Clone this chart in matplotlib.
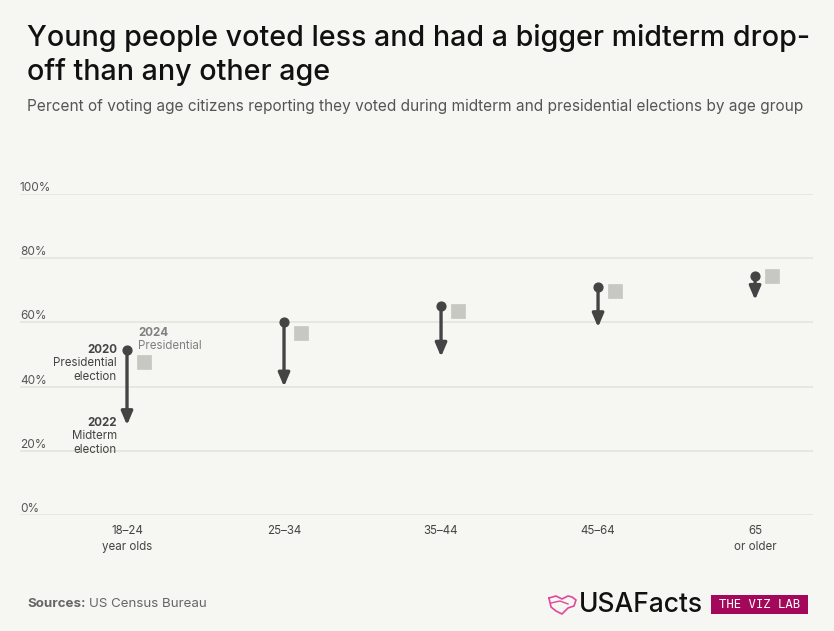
import numpy as np
import matplotlib.pyplot as plt
from matplotlib.patches import FancyBboxPatch

# data (percent of voting age citizens)
age_groups = ["18\u201324\nyear olds", "25\u201334", "35\u201344", "45\u201364", "65\nor older"]
pres_2020 = [51.4, 60.2, 65.1, 70.9, 74.3]
mid_2022 = [28.0, 40.0, 49.3, 58.5, 67.0]
pres_2024 = [47.7, 56.7, 63.4, 69.9, 74.5]
yticks = [0, 20, 40, 60, 80, 100]

BG = "#f6f6f2"
DARK = "#444444"
SQ = "#c8c8c3"
FONT = "Inter"

W, H = 834, 631
fig = plt.figure(figsize=(W / 100, H / 100), dpi=100, facecolor=BG)

def px(x, y):  # pixel (from top-left) -> figure fraction
    return x / W, 1 - y / H

# axes placed so 0% sits at y=515px and 100% at y=194px
l, b = px(20, 515)
r, t = px(813, 194)
ax = fig.add_axes([l, b, r - l, t - b], facecolor=BG)
ax.set_ylim(0, 100)
ax.set_xlim(-0.6815, 4.369)
for s in ax.spines.values():
    s.set_visible(False)
ax.set_xticks([])
ax.set_yticks([])

for v in yticks:
    ax.axhline(v, color="#e6e6e1", lw=1.3, zorder=0)
    ax.annotate(f"{v}%", xy=(0, v), xycoords=("axes fraction", "data"),
                xytext=(0, 0), textcoords="offset points", ha="left", va="bottom",
                fontsize=8.5, color="#555555", family=FONT)

x = np.arange(len(age_groups))
off = 0.11
for i in x:
    ax.annotate("", xy=(i, mid_2022[i]), xytext=(i, pres_2020[i]),
                arrowprops=dict(arrowstyle="-|>,head_length=0.8,head_width=0.34",
                                color=DARK, lw=2.4, shrinkA=0, shrinkB=0), zorder=3)
ax.scatter(x, pres_2020, s=40, color=DARK, zorder=4)
ax.scatter(x + off, pres_2024, s=100, marker="s", color=SQ, zorder=3,
           edgecolors=SQ, linewidths=0.5)

for i, lab in enumerate(age_groups):
    ax.annotate(lab, xy=(i, 0), xycoords="data", xytext=(0, -7),
                textcoords="offset points", ha="center", va="top",
                fontsize=8.3, color="#444444", family=FONT, linespacing=1.45)

# labels around first column
def lab3(xp, yp, bold, rest, ha, col):
    fig.text(*px(xp, yp), bold, ha=ha, va="center", fontsize=8.3,
             fontweight="bold", color=col, family=FONT)
    for k, line in enumerate(rest):
        fig.text(*px(xp, yp + 13.3 * (k + 1)), line, ha=ha, va="center",
                 fontsize=8.3, color=col, family=FONT)

lab3(117, 350, "2020", ["Presidential", "election"], "right", "#444444")
lab3(117, 423, "2022", ["Midterm", "election"], "right", "#444444")
lab3(138, 333, "2024", ["Presidential"], "left", "#808080")

fig.text(*px(27, 38), "Young people voted less and had a bigger midterm drop-",
         ha="left", va="center", fontsize=20.6, color="#111111", family=FONT,
         fontweight="medium")
fig.text(*px(27, 72), "off than any other age",
         ha="left", va="center", fontsize=20.6, color="#111111", family=FONT,
         fontweight="medium")
fig.text(*px(27, 107), "Percent of voting age citizens reporting they voted during midterm and presidential elections by age group",
         ha="left", va="center", fontsize=11.1, color="#555555", family=FONT)

fig.text(*px(27, 604), "Sources:", ha="left", va="center", fontsize=9.6,
         fontweight="bold", color="#666666", family=FONT)
fig.text(*px(89, 604), "US Census Bureau", ha="left", va="center", fontsize=9.6,
         color="#666666", family=FONT)

# logo
fig.text(*px(579, 605), "USAFacts", ha="left", va="center", fontsize=19,
         color="#111111", family=FONT, fontweight="medium")
ix = np.array([549, 556, 562, 568, 572, 576, 574, 568, 562, 556, 551, 549])
iy = np.array([598, 596, 599, 596, 597, 600, 606, 608, 614, 611, 607, 598])
fig.add_artist(plt.Line2D(ix / W, 1 - iy / H, color="#e0489a", lw=1.2))
fig.add_artist(plt.Line2D(np.array([551, 560, 568]) / W, 1 - np.array([603, 601, 604]) / H,
                          color="#e0489a", lw=1.0))
bx0, by0 = px(711, 614)
bx1, by1 = px(808, 595)
fig.add_artist(FancyBboxPatch((bx0, by0), bx1 - bx0, by1 - by0,
                              boxstyle="square,pad=0", fc="#a3085a", ec="none"))
fig.text((bx0 + bx1) / 2, (by0 + by1) / 2, "THE VIZ LAB", ha="center", va="center",
         fontsize=8.8, color="white", family="DejaVu Sans Mono")

fig.savefig("out.png", dpi=100, facecolor=BG)
